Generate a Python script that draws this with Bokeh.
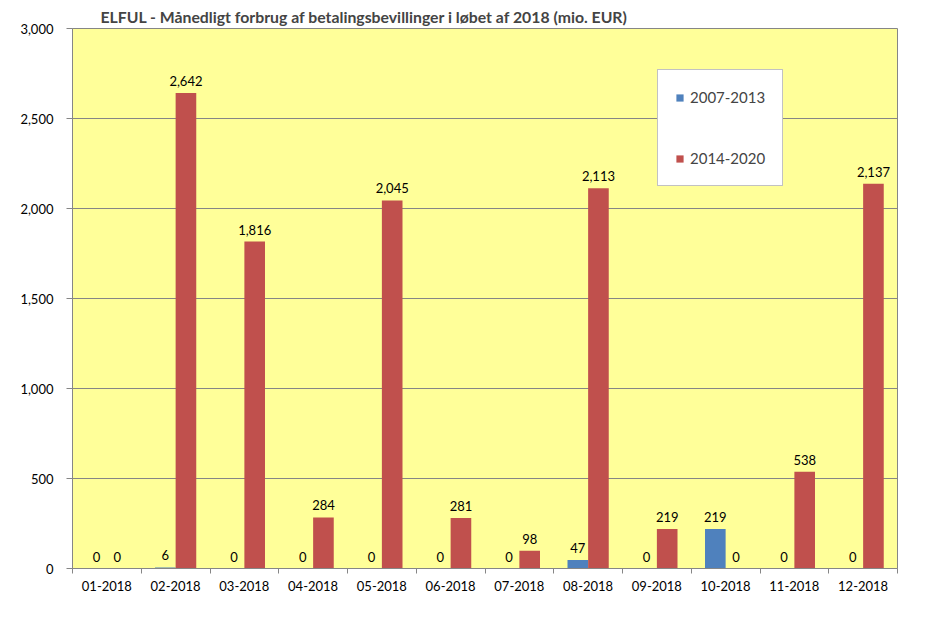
from bokeh.plotting import figure
from bokeh.models import ColumnDataSource, FixedTicker, NumeralTickFormatter, Legend, LegendItem, Range1d, LabelSet
from bokeh.core.properties import value
from bokeh.embed import file_html
from bokeh.resources import INLINE

categories = ["01-2018", "02-2018", "03-2018", "04-2018", "05-2018", "06-2018",
              "07-2018", "08-2018", "09-2018", "10-2018", "11-2018", "12-2018"]
series_names = ["2007-2013", "2014-2020"]
values_2007_2013 = [0, 6, 0, 0, 0, 0, 0, 47, 0, 219, 0, 0]
values_2014_2020 = [0, 2642, 1816, 284, 2045, 281, 98, 2113, 219, 0, 538, 2137]
y_ticks = [0, 500, 1000, 1500, 2000, 2500, 3000]

FONT = "Lato"
BLUE = "#4F81BD"
RED = "#C0504D"
GRAY = "#868686"

p = figure(width=920, height=626, output_backend="svg", toolbar_location=None,
           x_range=Range1d(0, len(categories)), y_range=Range1d(0, 3000),
           min_border_left=72, min_border_right=23, min_border_bottom=58, min_border_top=28)

p.title.text = "ELFUL - Månedligt forbrug af betalingsbevillinger i løbet af 2018 (mio. EUR)"
p.title.text_font = FONT
p.title.text_font_size = "15.8px"
p.title.text_font_style = "bold"
p.title.align = "left"
p.title.offset = 28
p.title.standoff = 6

p.background_fill_color = "#FFFF99"
p.border_fill_color = "white"
p.outline_line_color = GRAY

idx = list(range(len(categories)))
src_a = ColumnDataSource(dict(x=[i + 0.35 for i in idx], top=values_2007_2013,
                              lab=[f"{v:,}" for v in values_2007_2013]))
src_b = ColumnDataSource(dict(x=[i + 0.65 for i in idx], top=values_2014_2020,
                              lab=[f"{v:,}" for v in values_2014_2020]))

r1 = p.vbar(x="x", top="top", width=0.3, source=src_a, fill_color=BLUE, line_color=None)
r2 = p.vbar(x="x", top="top", width=0.3, source=src_b, fill_color=RED, line_color=None)

for s in (src_a, src_b):
    p.add_layout(LabelSet(x="x", y="top", text="lab", source=s, text_align="center",
                          text_baseline="bottom", y_offset=7, text_font=value(FONT),
                          text_font_size=value("13px"), text_color="black"))

# axes
xt = FixedTicker(ticks=[i + 0.5 for i in idx], minor_ticks=list(range(len(categories) + 1)))
p.xaxis.ticker = xt
p.xaxis.major_label_overrides = {i + 0.5: c for i, c in enumerate(categories)}
p.xaxis.major_tick_out = 0
p.xaxis.major_tick_in = 0
p.xaxis.minor_tick_out = 5
p.xaxis.minor_tick_in = 0
p.xaxis.minor_tick_line_color = GRAY
p.xaxis.axis_line_color = GRAY
p.xaxis.major_label_text_font = FONT
p.xaxis.major_label_text_font_size = "13px"
p.xaxis.major_label_text_color = "black"
p.xaxis.major_label_standoff = 7

p.yaxis.ticker = FixedTicker(ticks=y_ticks, minor_ticks=[])
p.yaxis.formatter = NumeralTickFormatter(format="0,0")
p.yaxis.major_tick_out = 6
p.yaxis.major_tick_in = 0
p.yaxis.major_tick_line_color = GRAY
p.yaxis.axis_line_color = GRAY
p.yaxis.major_label_text_font = FONT
p.yaxis.major_label_text_font_size = "13px"
p.yaxis.major_label_text_color = "black"
p.yaxis.major_label_standoff = 13

p.xgrid.grid_line_color = None
p.ygrid.grid_line_color = GRAY
p.ygrid.grid_line_width = 1

legend = Legend(items=[LegendItem(label=series_names[0], renderers=[r1]),
                       LegendItem(label=series_names[1], renderers=[r2])],
                location=(585, 382), padding=17, spacing=41,
                glyph_width=9, glyph_height=9, label_height=20, label_standoff=6,
                label_text_font=FONT, label_text_font_size="15px",
                background_fill_color="white", background_fill_alpha=1.0,
                border_line_color=GRAY, border_line_width=1)
p.add_layout(legend)

open("out.html", "w").write(file_html(p, INLINE))
